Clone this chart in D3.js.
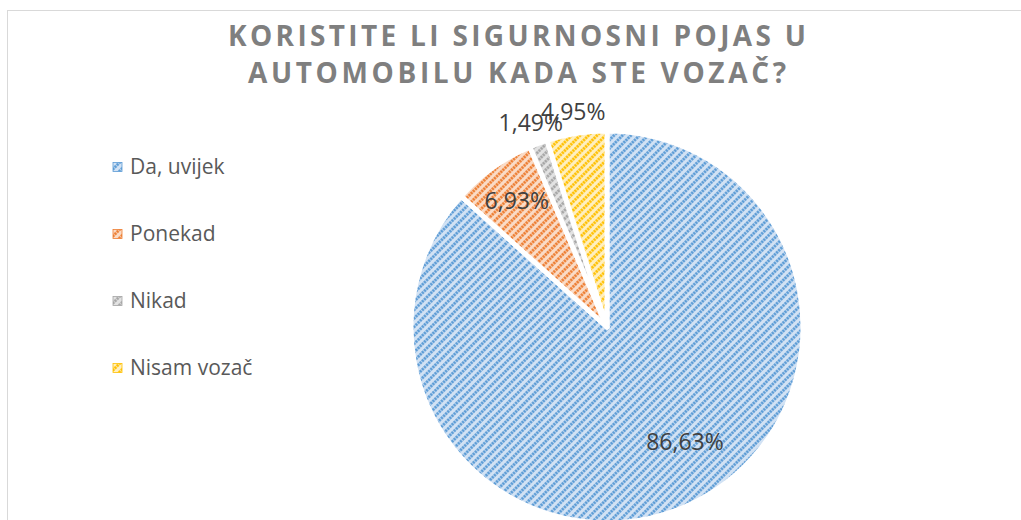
<!DOCTYPE html>
<html>
<head>
<meta charset="utf-8">
<script src="https://cdn.jsdelivr.net/npm/d3@7"></script>
<style>
  body { margin: 0; background: #fff; }
  text { font-family: "Open Sans", sans-serif; }
</style>
</head>
<body>
<div id="chart"></div>
<script>
var svgWidth = 1021;
var svgHeight = 520;

// data
var categories = ["Da, uvijek", "Ponekad", "Nikad", "Nisam vozač"];
var shares = [86.63, 6.93, 1.49, 4.95];
var labels = ["86,63%", "6,93%", "1,49%", "4,95%"];
var titleLines = ["KORISTITE LI SIGURNOSNI POJAS U", "AUTOMOBILU KADA STE VOZAČ?"];

var lineColors = ["#5b9bd5", "#ed7d31", "#a5a5a5", "#ffc000"];
var backColors = ["#d2e2f4", "#fadbc6", "#e2e2e2", "#ffefbf"];

var pieCenter = { x: 607, y: 327 };
var radius = 196;

var svg = d3.select("#chart")
  .append("svg")
  .attr("width", svgWidth)
  .attr("height", svgHeight);

// hatch patterns
var defs = svg.append("defs");
lineColors.forEach(function(c, i) {
  var p = defs.append("pattern")
    .attr("id", "hatch" + i)
    .attr("patternUnits", "userSpaceOnUse")
    .attr("width", 6)
    .attr("height", 6)
    .attr("patternTransform", "rotate(45)");
  p.append("rect")
    .attr("width", 6)
    .attr("height", 6)
    .attr("fill", backColors[i]);
  p.append("line")
    .attr("x1", 1.5).attr("y1", 0)
    .attr("x2", 1.5).attr("y2", 6)
    .attr("stroke", c)
    .attr("stroke-width", 2.8)
    .attr("stroke-dasharray", "2.2,0.8");
});

// chart border
svg.append("rect")
  .attr("x", 7.5)
  .attr("y", 10.5)
  .attr("width", svgWidth + 10)
  .attr("height", svgHeight + 10)
  .attr("fill", "none")
  .attr("stroke", "#d9d9d9")
  .attr("stroke-width", 1);

// title
svg.selectAll(".title")
  .data(titleLines)
  .enter()
  .append("text")
  .attr("class", "title")
  .attr("x", 517)
  .attr("y", (d, i) => 46 + i * 37)
  .attr("text-anchor", "middle")
  .attr("textLength", (d, i) => i == 0 ? 578 : 538)
  .attr("lengthAdjust", "spacing")
  .style("font-size", "28px")
  .style("font-weight", "bold")
  .style("fill", "#7f7f7f")
  .text(d => d);

// pie
var pie = d3.pie().sort(null).value(d => d);
var arc = d3.arc().innerRadius(0).outerRadius(radius);
var arcs = pie(shares);

var pieGroup = svg.append("g")
  .attr("transform", `translate(${pieCenter.x}, ${pieCenter.y})`);

pieGroup.selectAll("path")
  .data(arcs)
  .enter()
  .append("path")
  .attr("d", arc)
  .attr("fill", (d, i) => "url(#hatch" + i + ")")
  .attr("stroke", "#fff")
  .attr("stroke-width", 5)
  .attr("stroke-linejoin", "round");

// data labels: inside for the big slices, outside for small ones
function labelPos(d) {
  var inside = d.data > 6;
  var r = radius * (inside ? (d.data > 50 ? 0.71 : 0.79) : 1.11);
  var a = (d.startAngle + d.endAngle) / 2;
  if (d.data > 50) a -= 10 * Math.PI / 180; // best-fit nudge of the big label
  return [r * Math.sin(a), -r * Math.cos(a)];
}

pieGroup.selectAll(".lbl")
  .data(arcs)
  .enter()
  .append("text")
  .attr("class", "lbl")
  .attr("transform", function(d) {
    var c = labelPos(d);
    return `translate(${c[0]}, ${c[1]})`;
  })
  .attr("dy", "0.35em")
  .attr("text-anchor", "middle")
  .style("font-size", "23px")
  .style("fill", "#404040")
  .text((d, i) => labels[i]);

// legend
var legend = svg.append("g")
  .attr("transform", "translate(113, 167)");

var rows = legend.selectAll("g")
  .data(categories)
  .enter()
  .append("g")
  .attr("transform", (d, i) => `translate(0, ${i * 67})`);

rows.append("rect")
  .attr("x", 0)
  .attr("y", -4.5)
  .attr("width", 9)
  .attr("height", 9)
  .attr("fill", (d, i) => "url(#hatch" + i + ")")
  .attr("stroke", (d, i) => lineColors[i])
  .attr("stroke-width", 0.8);

rows.append("text")
  .attr("x", 17)
  .attr("y", 0)
  .attr("dy", "0.35em")
  .style("font-size", "21px")
  .style("fill", "#595959")
  .text(d => d);
</script>
</body>
</html>
